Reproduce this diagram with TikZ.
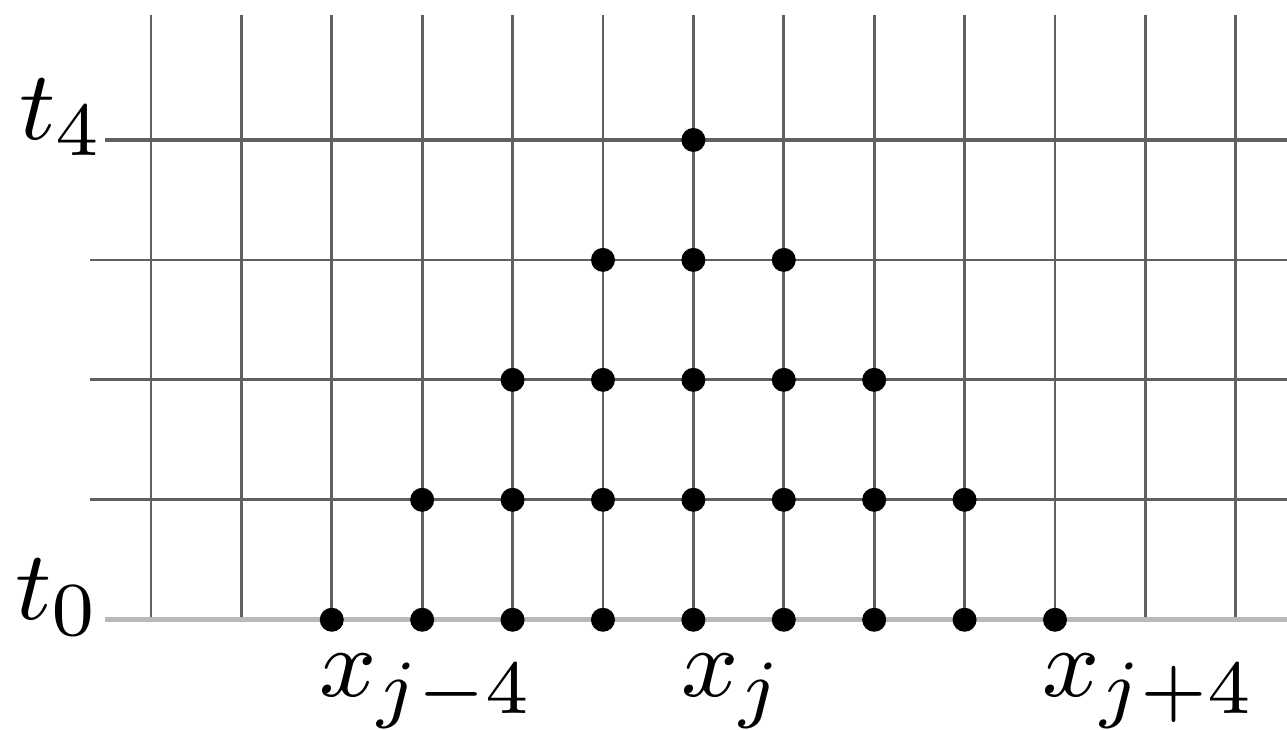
\documentclass[tikz,border=0pt]{standalone}
\usepackage{amsmath}
\usepackage{tikz}
\usetikzlibrary{positioning}

\begin{document}
\begin{tikzpicture}[x=8.29pt, y=11pt,
gridline/.style={draw=gray!75!black, line width=0.25pt},
baseline0/.style={draw=gray!55, line width=0.5pt},
dot/.style={fill=black},
tlabel/.style={inner sep=0pt, anchor=base east, font=\fontsize{9.4pt}{11pt}\selectfont},
xlabel/.style={inner sep=0pt, anchor=base west, font=\fontsize{9.4pt}{11pt}\selectfont}
]
\useasboundingbox (-1.670,-0.917) rectangle (12.566,5.167);
% grid
\foreach \i in {0,...,12}
  \draw[gridline] (\i,0) -- (\i,5.042);
\foreach \k in {1,2,3}
  \draw[gridline] (-0.675,\k) -- (12.566,\k);
\draw[gridline, line width=0.34pt] (-0.51,4) -- (12.566,4);
\draw[baseline0] (-0.51,0) -- (12.566,0);
% stencil points
\foreach \k in {0,...,4}{
  \pgfmathtruncatemacro{\lo}{2+\k}
  \pgfmathtruncatemacro{\hi}{10-\k}
  \foreach \i in {\lo,...,\hi}
    \fill[dot] (\i,\k) circle (1.1pt);
}
\node[tlabel] (T4) at (-0.49,4) {$t_4$};
\node[tlabel] (T0) at (-0.53,0) {$t_0$};
\node[xlabel] (XM) at (1.84,-0.642) {$x_{j-4}$};
\node[xlabel] (XJ) at (5.84,-0.642) {$x_j$};
\node[xlabel] (XP) at (9.84,-0.642) {$x_{j+4}$};
\end{tikzpicture}
\end{document}
